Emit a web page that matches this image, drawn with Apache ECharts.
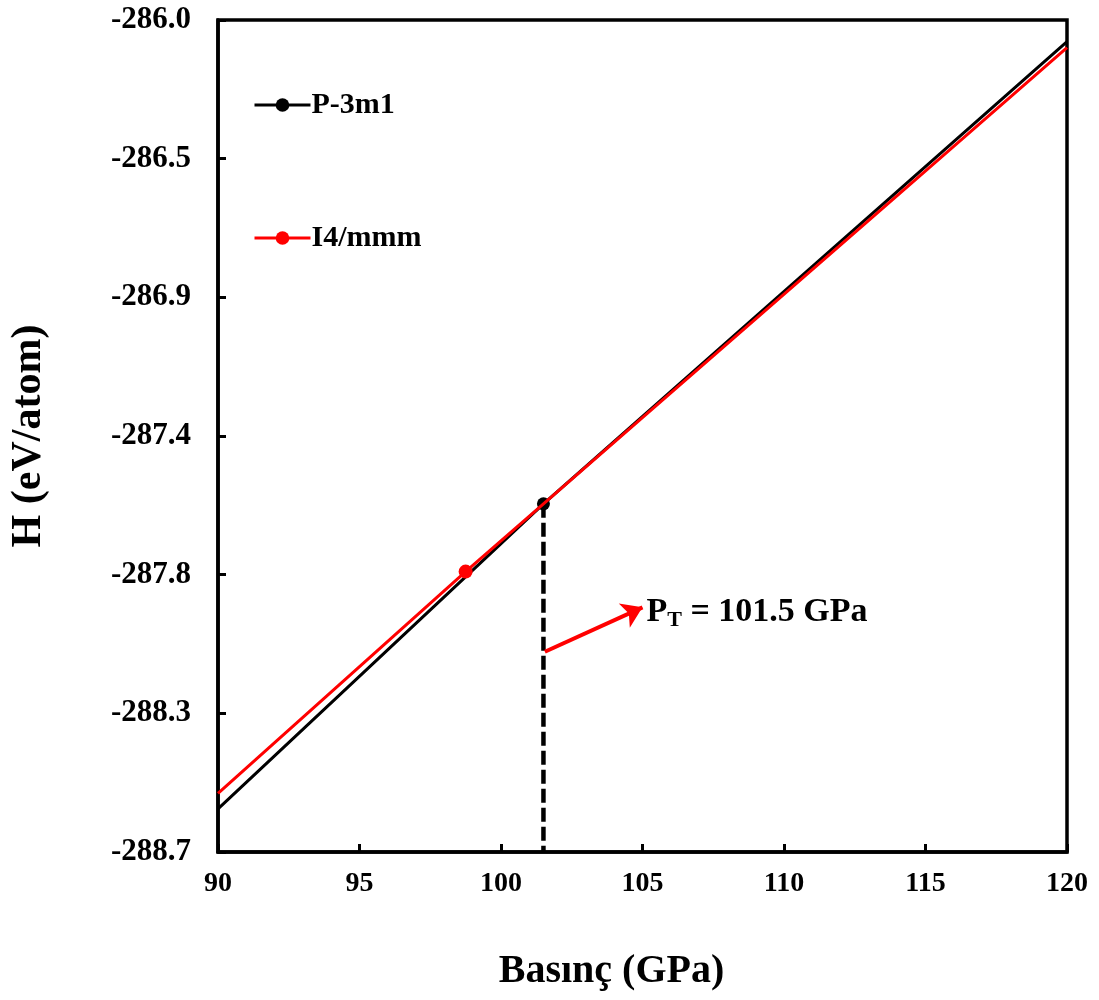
<!DOCTYPE html>
<html>
<head>
<meta charset="utf-8">
<title>H - Basınç</title>
<script src="https://cdn.jsdelivr.net/npm/echarts@6/dist/echarts.min.js"></script>
<style>
  html, body { margin: 0; padding: 0; background: #fff; }
  #chart { width: 1099px; height: 1000px; }
</style>
</head>
<body>
<div id="chart"></div>
<script>
// veri
const p3m1Data = [[90, -288.56], [101.5, -287.57], [120, -286.07]]
const i4mmmData = [[90, -288.51], [98.75, -287.79], [101.5, -287.57], [120, -286.09]]
// isaretli noktalar (x degerleri)
const p3m1Marked = [101.5]
const i4mmmMarked = [98.75]

const ptValue = 101.5
const ptLine = [[ptValue, -287.57], [ptValue, -288.7]]
const arrowFrom = [101.55, -288.05]
const arrowTo = [105.0, -287.906]

const xMin = 90, xMax = 120, xStep = 5
const yMin = -288.7, yMax = -286.0, yStep = 0.45
const yTickLabels = ['-288.7', '-288.3', '-287.8', '-287.4', '-286.9', '-286.5', '-286.0']

const font = '"Liberation Serif", "Times New Roman", serif'

function toItems(data, marked) {
  return data.map(d => marked.indexOf(d[0]) >= 0 ? { value: d } : { value: d, symbol: 'none' })
}

const chart = echarts.init(document.getElementById('chart'))

chart.setOption({
  backgroundColor: '#fff',
  animation: false,
  grid: {
    left: 218,
    right: 32,
    top: 20,
    bottom: 148,
    show: true,
    borderColor: '#000',
    borderWidth: 3.5
  },
  legend: {
    data: ['P-3m1', 'I4/mmm'],
    orient: 'vertical',
    left: 248,
    top: 85,
    itemGap: 103,
    itemWidth: 56,
    itemHeight: 17,
    lineStyle: { width: 3 },
    textStyle: {
      color: '#000',
      fontFamily: font,
      fontWeight: 'bold',
      fontSize: 30,
      padding: [0, 0, 0, -4]
    }
  },
  xAxis: {
    type: 'value',
    min: xMin,
    max: xMax,
    interval: xStep,
    name: 'Basınç (GPa)',
    nameLocation: 'middle',
    nameGap: 100,
    nameTextStyle: { color: '#000', fontFamily: font, fontWeight: 'bold', fontSize: 40, padding: [0, 62, 0, 0] },
    axisLine: { show: true, lineStyle: { color: '#000', width: 3.5 } },
    axisTick: { show: true, inside: true, length: 8, lineStyle: { color: '#000', width: 3 } },
    axisLabel: { color: '#000', fontFamily: font, fontWeight: 'bold', fontSize: 28, margin: 18 },
    splitLine: { show: false }
  },
  yAxis: {
    type: 'value',
    min: yMin,
    max: yMax,
    interval: yStep,
    name: 'H (eV/atom)',
    nameLocation: 'middle',
    nameGap: 168,
    nameTextStyle: { color: '#000', fontFamily: font, fontWeight: 'bold', fontSize: 42 },
    axisLine: { show: true, lineStyle: { color: '#000', width: 3.5 } },
    axisTick: { show: true, inside: true, length: 8, lineStyle: { color: '#000', width: 3 } },
    axisLabel: {
      color: '#000',
      fontFamily: font,
      fontWeight: 'bold',
      fontSize: 31,
      margin: 27,
      formatter: function (v) {
        return yTickLabels[Math.round((v - yMin) / yStep)]
      }
    },
    splitLine: { show: false }
  },
  series: [
    {
      name: 'PT',
      type: 'line',
      data: ptLine,
      symbol: 'none',
      z: 1,
      lineStyle: { color: '#000', width: 4.5, type: [14, 5] },
      silent: true
    },
    {
      name: 'P-3m1',
      type: 'line',
      data: toItems(p3m1Data, p3m1Marked),
      symbol: 'circle',
      symbolSize: 13,
      z: 2,
      itemStyle: { color: '#000' },
      lineStyle: { color: '#000', width: 3 }
    },
    {
      name: 'I4/mmm',
      type: 'line',
      data: toItems(i4mmmData, i4mmmMarked),
      symbol: 'circle',
      symbolSize: 14,
      z: 3,
      itemStyle: { color: '#ff0000' },
      lineStyle: { color: '#ff0000', width: 3 },
      markLine: {
        silent: true,
        symbol: ['none', 'arrow'],
        symbolSize: 20,
        label: { show: false },
        lineStyle: { color: '#ff0000', width: 4, type: 'solid' },
        data: [[{ coord: arrowFrom }, { coord: arrowTo }]]
      },
      markPoint: {
        silent: true,
        symbol: 'circle',
        symbolSize: 0,
        data: [{ coord: arrowTo }],
        label: {
          show: true,
          position: 'right',
          distance: 4,
          offset: [0, 5],
          formatter: '{p|P}{s|T}{e| = 101.5 GPa}',
          rich: {
            p: { color: '#000', fontFamily: font, fontWeight: 'bold', fontSize: 34 },
            s: { color: '#000', fontFamily: font, fontWeight: 'bold', fontSize: 22, padding: [16, 0, 0, 0] },
            e: { color: '#000', fontFamily: font, fontWeight: 'bold', fontSize: 34 }
          }
        }
      }
    }
  ]
})
</script>
</body>
</html>
